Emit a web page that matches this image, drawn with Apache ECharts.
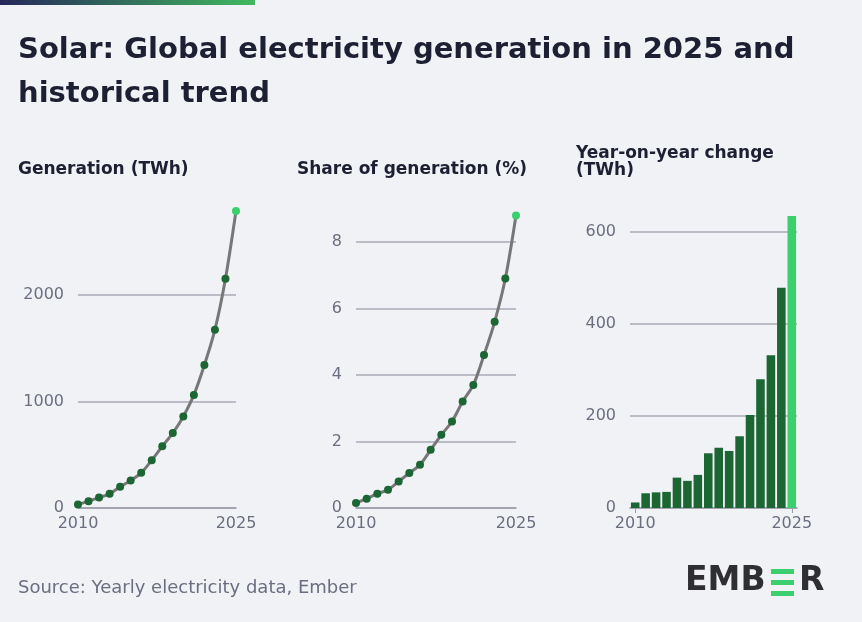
<!DOCTYPE html>
<html><head><meta charset="utf-8">
<script src="https://cdn.jsdelivr.net/npm/echarts@6/dist/echarts.min.js"></script>
<style>html,body{margin:0;padding:0;background:#f0f2f6}#c{width:862px;height:622px}</style>
</head><body><div id="c"></div>
<script>
var years = ['2010','2011','2012','2013','2014','2015','2016','2017','2018','2019','2020','2021','2022','2023','2024','2025'];
var generation = [32,64,98,133,199,258,330,449,580,704,860,1062,1342,1674,2153,2788];
var share = [0.15,0.28,0.43,0.55,0.8,1.05,1.3,1.75,2.2,2.6,3.2,3.7,4.6,5.6,6.9,8.8];
var yoyChange = [12,32,34,35,66,59,72,119,131,124,156,202,280,332,479,635];

var chart = echarts.init(document.getElementById('c'));
var dark = '#1b6633', bright = '#3ccf6e', txt = '#1d2033', lbl = '#6b6e80';
var font = '"DejaVu Sans", "Noto Sans", sans-serif';

function xAx(idx, gap){
	return {type:'category', gridIndex:idx, data:years, boundaryGap:gap,
		axisLine:{lineStyle:{color:'#9a9ca8', width:1.5}},
		axisTick:{show:gap, alignWithLabel:true, interval:function(i){return i==0||i==15;}, lineStyle:{color:'#9a9ca8'}},
		axisLabel:{color:lbl, fontSize:16, fontFamily:font, margin:8,
			interval:function(i){return i==0||i==15;}}};
}
function yAx(idx, max, interval){
	return {type:'value', gridIndex:idx, min:0, max:max, interval:interval,
		axisLine:{show:false}, axisTick:{show:false},
		axisLabel:{color:lbl, fontSize:16, fontFamily:font, margin:14, formatter:function(v){return ''+v;}},
		splitLine:{lineStyle:{color:'#a9abb6', width:1.5}}};
}
function dots(data){
	return data.map(function(v,i){
		return {value:v, itemStyle:{color: i==data.length-1 ? bright : dark}};
	});
}

chart.setOption({
	backgroundColor:'#f0f2f6',
	animation:false,
	grid:[
		{left:78, width:158, top:295, height:213},
		{left:356, width:160, top:242, height:266},
		{left:630, width:167, top:232, height:276}
	],
	xAxis:[xAx(0,false), xAx(1,false), xAx(2,true)],
	yAxis:[yAx(0,2000,1000), yAx(1,8,2), yAx(2,600,200)],
	series:[
		{type:'line', xAxisIndex:0, yAxisIndex:0, data:dots(generation), smooth:0.3, clip:false,
			showAllSymbol:true, symbol:'circle', symbolSize:8, lineStyle:{color:'#777', width:3}},
		{type:'line', xAxisIndex:1, yAxisIndex:1, data:dots(share), smooth:0.3, clip:false,
			showAllSymbol:true, symbol:'circle', symbolSize:8, lineStyle:{color:'#777', width:3}},
		{type:'bar', xAxisIndex:2, yAxisIndex:2, data:dots(yoyChange), clip:false, barCategoryGap:'18%'}
	],
	graphic:[
		{type:'rect', shape:{x:0,y:0,width:255,height:5},
			style:{fill:new echarts.graphic.LinearGradient(0,0,1,0,[{offset:0,color:'#25275a'},{offset:1,color:'#41b95f'}])}},
		{type:'text', left:18, top:28, style:{text:'Solar: Global electricity generation in 2025 and\nhistorical trend',
			fill:txt, font:'bold 29px '+font, lineHeight:44}},
		{type:'text', left:18, top:161, style:{text:'Generation (TWh)', fill:txt, font:'bold 17px '+font}},
		{type:'text', left:297, top:161, style:{text:'Share of generation (%)', fill:txt, font:'bold 17px '+font}},
		{type:'text', left:576, top:145, style:{text:'Year-on-year change\n(TWh)', fill:txt, font:'bold 17px '+font, lineHeight:17}},
		{type:'text', left:18, top:579, style:{text:'Source: Yearly electricity data, Ember', fill:lbl, font:'18px '+font}},
		{type:'text', left:685, top:565, style:{text:'EMB', fill:'#2f2f33', font:'bold 33px '+font}},
		{type:'rect', shape:{x:771,y:569,width:23,height:5}, style:{fill:bright}},
		{type:'rect', shape:{x:771,y:580,width:23,height:5}, style:{fill:bright}},
		{type:'rect', shape:{x:771,y:591,width:23,height:5}, style:{fill:bright}},
		{type:'text', left:799, top:565, style:{text:'R', fill:'#2f2f33', font:'bold 33px '+font}}
	]
});
</script></body></html>
